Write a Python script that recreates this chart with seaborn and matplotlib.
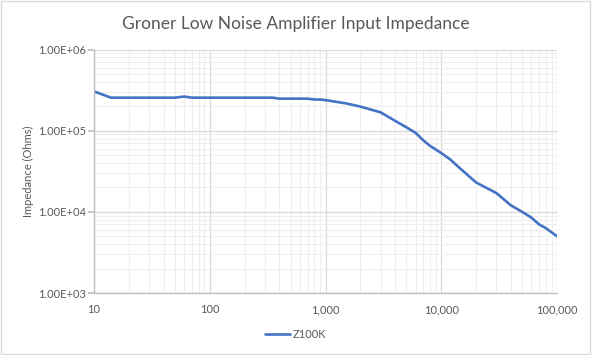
import matplotlib
matplotlib.use("Agg")
import matplotlib.pyplot as plt
import matplotlib.ticker as mticker
from matplotlib.patches import Rectangle
import seaborn as sns
import pandas as pd

freq = [10, 14, 20, 30, 40, 50, 60, 70, 80, 100, 150, 200, 300, 350, 400, 500,
        600, 700, 800, 900, 1000, 1500, 2000, 3000, 4000, 5000, 6000, 7000, 8000,
        10000, 12000, 14000, 20000, 30000, 40000, 50000, 60000, 70000, 80000, 100000]
z100k = [3.05e5, 2.55e5, 2.55e5, 2.55e5, 2.55e5, 2.55e5, 2.63e5, 2.55e5, 2.55e5,
         2.55e5, 2.55e5, 2.55e5, 2.55e5, 2.55e5, 2.48e5, 2.48e5, 2.48e5, 2.48e5,
         2.42e5, 2.42e5, 2.38e5, 2.17e5, 1.98e5, 1.68e5, 1.32e5, 1.1e5, 9.4e4,
         7.6e4, 6.5e4, 5.3e4, 4.4e4, 3.6e4, 2.3e4, 1.7e4, 1.2e4, 1.0e4, 8.5e3,
         7.0e3, 6.3e3, 5.0e3]
series_name = "Z100K"
title = "Groner Low Noise Amplifier Input Impedance"
ylabel = "Impedance (Ohms)"

df = pd.DataFrame({"Frequency": freq, "Impedance": z100k, "Series": series_name})

sns.set_theme(style="white")
plt.rcParams["font.family"] = ["Lato", "DejaVu Sans"]

fig = plt.figure(figsize=(5.92, 3.55), dpi=100)
ax = fig.add_axes([94/592, 1-293/355, (557-94)/592, (293-49.5)/355])

sns.lineplot(data=df, x="Frequency", y="Impedance", hue="Series",
             palette=["#4472C4"], linewidth=1.9, ax=ax)

ax.set_xscale("log")
ax.set_yscale("log")
ax.set_xlim(10, 100000)
ax.set_ylim(1e3, 1e6)

ax.xaxis.set_major_locator(mticker.LogLocator(base=10, numticks=10))
ax.xaxis.set_minor_locator(mticker.LogLocator(base=10, subs=range(2, 10), numticks=100))
ax.yaxis.set_major_locator(mticker.LogLocator(base=10, numticks=10))
ax.yaxis.set_minor_locator(mticker.LogLocator(base=10, subs=range(2, 10), numticks=100))
ax.xaxis.set_major_formatter(mticker.FuncFormatter(lambda v, p: f"{v:,.0f}"))
ax.yaxis.set_major_formatter(mticker.FuncFormatter(lambda v, p: f"{v:.2E}"))
ax.xaxis.set_minor_formatter(mticker.NullFormatter())
ax.yaxis.set_minor_formatter(mticker.NullFormatter())

ax.grid(True, which="major", color="#d9d9d9", linewidth=0.9)
ax.grid(True, which="minor", color="#eeeeee", linewidth=0.8)
ax.set_axisbelow(True)

for s in ["top", "right"]:
    ax.spines[s].set_visible(False)
for s in ["left", "bottom"]:
    ax.spines[s].set_color("#bfbfbf")
    ax.spines[s].set_linewidth(1)

ax.tick_params(axis="y", which="major", length=4, color="#bfbfbf", labelsize=8,
               labelcolor="#595959", pad=2, left=True)
ax.tick_params(axis="y", which="minor", length=0)
ax.tick_params(axis="x", which="both", length=0, labelsize=8, labelcolor="#595959", pad=8)

ax.set_xlabel("")
ax.set_ylabel(ylabel, fontsize=8, color="#595959", labelpad=3)
fig.suptitle(title, x=0.5, y=0.955, fontsize=12.5, color="#595959")

ax.get_legend().remove()
handles, labels = ax.get_legend_handles_labels()
fig.legend(handles, labels, loc="center", bbox_to_anchor=(0.5, 1-334/355),
           frameon=False, fontsize=8, labelcolor="#595959", handlelength=2.2,
           handletextpad=0.3)

fig.patches.append(Rectangle((0.002, 0.003), 0.995, 0.994, transform=fig.transFigure,
                             fill=False, edgecolor="#d9d9d9", linewidth=1))

fig.savefig("out.png", dpi=100, facecolor="white")
